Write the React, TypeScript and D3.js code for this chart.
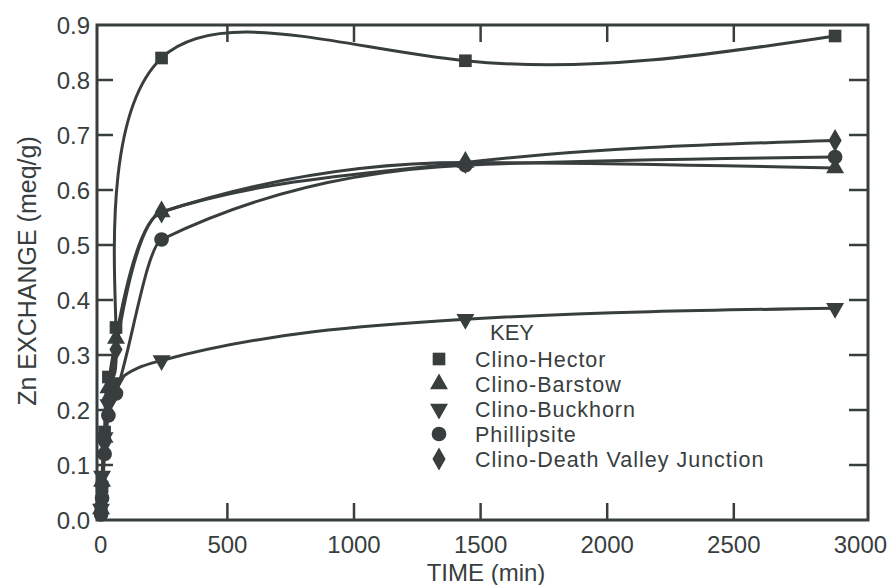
import React from 'react'
import * as d3 from 'd3'

const times = [1, 5, 15, 30, 60, 240, 1440, 2900]
const hector = [0.02, 0.06, 0.16, 0.26, 0.35, 0.84, 0.835, 0.88]
const barstow = [0.02, 0.07, 0.15, 0.24, 0.33, 0.56, 0.65, 0.64]
const buckhorn = [0.02, 0.08, 0.15, 0.21, 0.25, 0.29, 0.365, 0.385]
const phillipsite = [0.01, 0.04, 0.12, 0.19, 0.23, 0.51, 0.645, 0.66]
const deathValley = [0.02, 0.06, 0.14, 0.22, 0.31, 0.56, 0.65, 0.69]

const seriesNames = ['Clino-Hector', 'Clino-Barstow', 'Clino-Buckhorn', 'Phillipsite', 'Clino-Death Valley Junction']
const seriesShapes = ['square', 'triangle', 'triangleDown', 'circle', 'diamond']
const seriesValues = [hector, barstow, buckhorn, phillipsite, deathValley]

const xTicks = [0, 500, 1000, 1500, 2000, 2500, 3000]
const yTicks = [0, 0.1, 0.2, 0.3, 0.4, 0.5, 0.6, 0.7, 0.8, 0.9]

const ink = '#383e3e'
const font = 'Liberation Sans, Arial, sans-serif'

const symbolFor = (shape: string) => {
  if (shape === 'square') return d3.symbol(d3.symbolSquare, 160)
  if (shape === 'triangle') return d3.symbol(d3.symbolTriangle, 140)
  if (shape === 'triangleDown') return d3.symbol(d3.symbolTriangle, 140)
  if (shape === 'circle') return d3.symbol(d3.symbolCircle, 170)
  return d3.symbol(d3.symbolDiamond, 150)
}

const App = () => {
  const svgRef = React.useRef<SVGSVGElement>(null)
  const width = 896
  const height = 585

  React.useEffect(() => {
    const svg = d3.select(svgRef.current)
    svg.selectAll('*').remove()

    const x = d3.scaleLinear().domain([-15, 3030]).range([97, 868])
    const y = d3.scaleLinear().domain([0, 0.9]).range([520, 25])

    // frame
    svg.append('rect')
      .attr('x', x(-15)).attr('y', y(0.9))
      .attr('width', x(3030) - x(-15)).attr('height', y(0) - y(0.9))
      .attr('fill', 'none').attr('stroke', ink).attr('stroke-width', 3)

    // ticks, all pointing in
    const tk = svg.append('g').attr('stroke', ink).attr('stroke-width', 2.5)
    xTicks.slice(1, -1).forEach((t) => {
      tk.append('line').attr('x1', x(t)).attr('x2', x(t)).attr('y1', y(0)).attr('y2', y(0) - 17)
      tk.append('line').attr('x1', x(t)).attr('x2', x(t)).attr('y1', y(0.9)).attr('y2', y(0.9) + 17)
    })
    yTicks.slice(1, -1).forEach((t) => {
      tk.append('line').attr('x1', x(-15)).attr('x2', x(-15) + 16).attr('y1', y(t)).attr('y2', y(t))
      tk.append('line').attr('x1', x(3030)).attr('x2', x(3030) - 19).attr('y1', y(t)).attr('y2', y(t))
    })

    svg.append('g')
      .selectAll('text')
      .data(xTicks)
      .join('text')
      .attr('x', (d) => x(d))
      .attr('y', 553)
      .attr('text-anchor', 'middle')
      .style('font', `24px ${font}`)
      .attr('fill', ink)
      .text((d) => d)

    svg.append('g')
      .selectAll('text')
      .data(yTicks)
      .join('text')
      .attr('x', 90)
      .attr('y', (d) => y(d) + 8.5)
      .attr('text-anchor', 'end')
      .style('font', `24px ${font}`)
      .attr('fill', ink)
      .text((d) => d.toFixed(1))

    svg.append('text')
      .attr('x', 486)
      .attr('y', 581)
      .attr('text-anchor', 'middle')
      .style('font', `24px ${font}`)
      .attr('fill', ink)
      .text('TIME (min)')

    svg.append('text')
      .attr('transform', 'translate(36,271) rotate(-90)')
      .attr('text-anchor', 'middle')
      .style('font', `25px ${font}`)
      .attr('fill', ink)
      .text('Zn  EXCHANGE (meq/g)')

    const natural = d3.line<number>()
      .x((_, i) => x(times[i]))
      .y((d) => y(d))
      .curve(d3.curveNatural)
    const smooth = d3.line<number>()
      .x((_, i) => x(times[i]))
      .y((d) => y(d))
      .curve(d3.curveMonotoneX)

    seriesValues.forEach((vals, si) => {
      svg.append('path')
        .attr('d', si === 0 ? natural(vals) : smooth(vals))
        .attr('fill', 'none')
        .attr('stroke', ink)
        .attr('stroke-width', 3)

      svg.append('g')
        .selectAll('path')
        .data(vals)
        .join('path')
        .attr('d', symbolFor(seriesShapes[si]))
        .attr('transform', (d, i) => `translate(${x(times[i])},${y(d)})${seriesShapes[si] === 'triangleDown' ? ' rotate(180)' : ''}`)
        .attr('fill', ink)
    })

    // key
    const lg = svg.append('g')
    lg.append('text')
      .attr('x', 490).attr('y', 340)
      .style('font', `22px ${font}`)
      .attr('fill', ink)
      .text('KEY')
    const rowBase = [367, 392, 417, 442, 467]
    seriesNames.forEach((name, i) => {
      lg.append('path')
        .attr('d', symbolFor(seriesShapes[i]))
        .attr('transform', `translate(439,${rowBase[i] - 8})${seriesShapes[i] === 'triangleDown' ? ' rotate(180)' : ''}`)
        .attr('fill', ink)
      lg.append('text')
        .attr('x', 475).attr('y', rowBase[i])
        .style('font', `21.5px ${font}`)
        .style('letter-spacing', '1px')
        .attr('fill', ink)
        .text(name)
    })
  }, [])

  return <svg ref={svgRef} width={width} height={height} style={{ display: 'block', position: 'absolute', left: 0, top: 0, background: '#fff' }} />
}

export default App
